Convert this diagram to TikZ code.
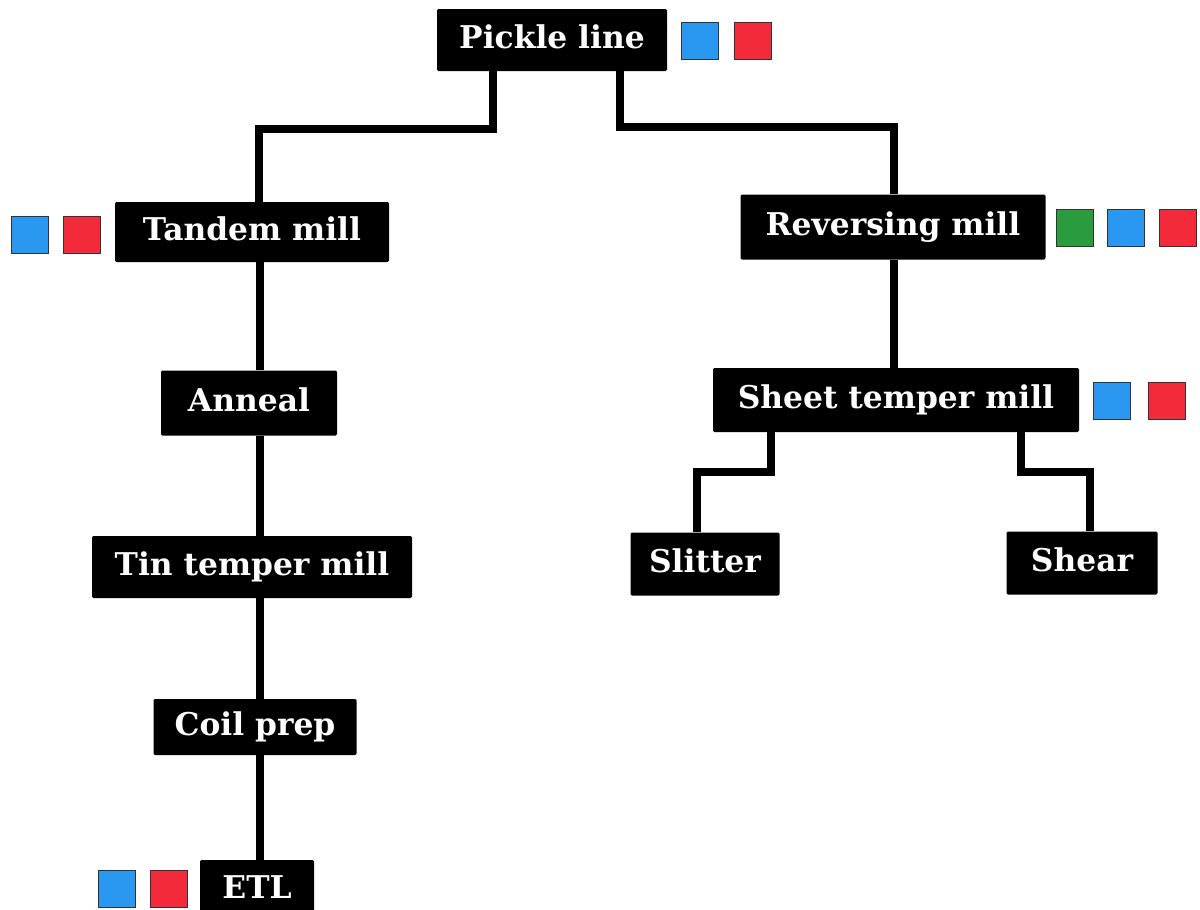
\documentclass[tikz,border=0pt]{standalone}
\usepackage{fontspec}
\setmainfont{DejaVu Serif}
\definecolor{chipblue}{HTML}{2A97F0}
\definecolor{chipred}{HTML}{F22A3A}
\definecolor{chipgreen}{HTML}{2B9B3F}
\begin{document}
\begin{tikzpicture}[x=0.75pt,y=-0.75pt,
  stage/.style 2 args={fill=black,draw=none,rounded corners=1pt,
    text=white,font=\fontsize{23.5}{28}\selectfont\bfseries,
    text height=17pt,text depth=5pt,inner sep=0pt,
    minimum width=#1*0.75pt,minimum height=#2*0.75pt},
  chip/.style={draw=black!80,line width=0.9pt,minimum size=27.75pt,inner sep=0pt,fill=#1},
  link/.style={draw=black,line width=5.8pt}]
\useasboundingbox (0,0) rectangle (1200,910);

% process stages
\node[stage={230}{62}]  (pickle)  at (552,40)  {Pickle line};
\node[stage={274}{60}]  (tandem)  at (252,232) {Tandem mill};
\node[stage={305}{65}]  (rev)     at (893,227) {Reversing mill};
\node[stage={176}{65}]  (anneal)  at (249,403) {Anneal};
\node[stage={366}{64}]  (sheet)   at (896,400) {Sheet temper mill};
\node[stage={320}{62}]  (tin)     at (252,567) {Tin temper mill};
\node[stage={149}{63}]  (slitter) at (705,564) {Slitter};
\node[stage={151}{63}]  (shear)   at (1082,563) {Shear};
\node[stage={203}{56}]  (coil)    at (255,727) {Coil prep};
\node[stage={114}{60}]  (etl)     at (257,890) {ETL};

% colour chips beside the stages
\node[chip=chipblue]  (pickleB) at (700,41) {};
\node[chip=chipred]   (pickleR) at (753,41) {};
\node[chip=chipblue]  (tandemB) at (30,235) {};
\node[chip=chipred]   (tandemR) at (82,235) {};
\node[chip=chipgreen] (revG)    at (1075,228) {};
\node[chip=chipblue]  (revB)    at (1126,228) {};
\node[chip=chipred]   (revR)    at (1178,228) {};
\node[chip=chipblue]  (sheetB)  at (1112,401) {};
\node[chip=chipred]   (sheetR)  at (1167,401) {};
\node[chip=chipblue]  (etlB)    at (117,889) {};
\node[chip=chipred]   (etlR)    at (169,889) {};

% bend points of the connectors
\coordinate (pl) at (493,129);
\coordinate (pr) at (620,127);
\coordinate (tx) at (259,0);
\coordinate (rx) at (894,0);
\coordinate (cx) at (260,0);
\coordinate (sl) at (771,472);
\coordinate (sr) at (1021,472);
\coordinate (slx) at (697,0);
\coordinate (shx) at (1090,0);

% connectors
\draw[link] (pickle.south -| pl) -- (pl) -- (pl -| tx) -- (tandem.north -| tx);
\draw[link] (pickle.south -| pr) -- (pr) -- (pr -| rx) -- (rev.north -| rx);
\draw[link] (rev.south -| rx) -- (sheet.north -| rx);
\draw[link] (sheet.south -| sl) -- (sl) -- (sl -| slx) -- (slitter.north -| slx);
\draw[link] (sheet.south -| sr) -- (sr) -- (sr -| shx) -- (shear.north -| shx);
\draw[link] (tandem.south -| cx) -- (anneal.north -| cx);
\draw[link] (anneal.south -| cx) -- (tin.north -| cx);
\draw[link] (tin.south -| cx) -- (coil.north -| cx);
\draw[link] (coil.south -| cx) -- (etl.north -| cx);
\end{tikzpicture}
\end{document}
